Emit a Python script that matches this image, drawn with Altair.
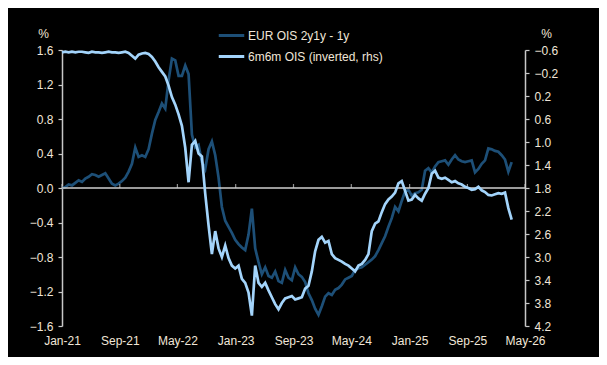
import altair as alt
import pandas as pd

# fortnightly observations from Jan-21
dates = pd.date_range("2021-01-01", periods=136, freq="14D")

eur_ois_2y1y_1y = [
    0.00, 0.01, 0.04, 0.03, 0.06, 0.09, 0.07, 0.11, 0.13, 0.16,
    0.15, 0.13, 0.15, 0.17, 0.11, 0.05, 0.03, 0.05, 0.08, 0.12,
    0.19, 0.28, 0.47, 0.36, 0.38, 0.36, 0.45, 0.63, 0.79, 0.88,
    0.98, 0.92, 1.25, 1.50, 1.48, 1.30, 1.30, 1.42, 1.32, 0.62,
    0.47, 0.50, 0.30, 0.22, 0.45, 0.54, 0.38, 0.12, -0.22, -0.38,
    -0.45, -0.52, -0.60, -0.65, -0.69, -0.72, -0.54, -0.24, -0.70, -0.86,
    -1.00, -0.92, -1.02, -1.04, -0.97, -1.08, -1.10, -0.95, -1.04, -1.07,
    -0.92, -1.00, -1.03, -1.09, -1.22, -1.30, -1.40, -1.47, -1.37, -1.26,
    -1.22, -1.24, -1.18, -1.16, -1.12, -1.06, -1.04, -1.02, -0.95, -0.93,
    -0.92, -0.89, -0.86, -0.83, -0.79, -0.72, -0.64, -0.56, -0.45, -0.35,
    -0.22, -0.27, -0.15, -0.04, -0.02, -0.09, -0.06, -0.05, -0.02, 0.20,
    0.23, 0.18, 0.25, 0.30, 0.31, 0.32, 0.27, 0.33, 0.38, 0.33,
    0.31, 0.30, 0.31, 0.32, 0.18, 0.22, 0.28, 0.32, 0.46, 0.45,
    0.43, 0.42, 0.38, 0.33, 0.19, 0.30,
]

ois_6m6m = [
    -0.56, -0.57, -0.56, -0.57, -0.56, -0.57, -0.57, -0.56, -0.55, -0.57,
    -0.56, -0.56, -0.55, -0.56, -0.57, -0.56, -0.56, -0.55, -0.56, -0.57,
    -0.55, -0.50, -0.45, -0.52, -0.54, -0.55, -0.53, -0.48, -0.40, -0.30,
    -0.22, -0.14, 0.02, 0.22, 0.35, 0.52, 0.72, 1.10, 1.70, 1.05,
    0.98, 1.20, 1.25, 1.90, 2.45, 2.95, 2.55, 2.85, 3.00, 2.80,
    3.02, 3.15, 3.20, 3.15, 3.38, 3.45, 3.62, 4.02, 3.15, 3.45,
    3.52, 3.45, 3.58, 3.70, 3.82, 3.91, 3.80, 3.72, 3.70, 3.68,
    3.74, 3.72, 3.70, 3.55, 3.50, 3.25, 2.90, 2.70, 2.65, 2.75,
    2.72, 2.95, 3.02, 3.05, 3.08, 3.12, 3.15, 3.20, 3.25, 3.15,
    3.12, 3.05, 2.95, 2.55, 2.42, 2.38, 2.22, 2.08, 2.00, 1.95,
    1.88, 1.72, 1.68, 1.85, 2.02, 2.00, 1.92, 1.98, 2.02, 1.90,
    1.80, 1.55, 1.50, 1.62, 1.64, 1.62, 1.66, 1.70, 1.68, 1.72,
    1.74, 1.78, 1.80, 1.83, 1.82, 1.78, 1.84, 1.87, 1.92, 1.93,
    1.91, 1.89, 1.90, 1.88, 2.15, 2.35,
]

series_names = ["EUR OIS 2y1y - 1y", "6m6m OIS (inverted, rhs)"]
series_colors = ["#1d4f77", "#a3d4fb"]

left_ticks = [-1.6, -1.2, -0.8, -0.4, 0.0, 0.4, 0.8, 1.2, 1.6]
right_ticks = [-0.6, -0.2, 0.2, 0.6, 1.0, 1.4, 1.8, 2.2, 2.6, 3.0, 3.4, 3.8, 4.2]
x_tick_dates = ["2021-01-01", "2021-09-01", "2022-05-01", "2023-01-01", "2023-09-01",
                "2024-05-01", "2025-01-01", "2025-09-01", "2026-05-01"]

TEXT = "#f0e6d8"
FONT = "Liberation Sans"

df = pd.concat([
    pd.DataFrame({"date": dates, "value": eur_ois_2y1y_1y, "series": series_names[0]}),
    pd.DataFrame({"date": dates, "value": ois_6m6m, "series": series_names[1]}),
])
ticks_df = pd.DataFrame({"date": pd.to_datetime(x_tick_dates), "zero": 0.0})

def dt(s):
    t = pd.Timestamp(s)
    return alt.DateTime(year=t.year, month=t.month, date=t.day)

x_scale = alt.Scale(domain=[dt(x_tick_dates[0]), dt(x_tick_dates[-1])])
x_axis = alt.Axis(values=[dt(s) for s in x_tick_dates], format="%b-%y",
                  domain=False, ticks=False, grid=False, title=None,
                  labelPadding=9, labelFlush=False, labelOverlap=False)
x_enc = alt.X("date:T", scale=x_scale, axis=x_axis)
left_scale = alt.Scale(domain=[-1.6, 1.6], nice=False, zero=False)

color = alt.Color("series:N", sort=series_names,
                  scale=alt.Scale(domain=series_names, range=series_colors),
                  legend=alt.Legend(title=None, orient="none", legendX=155, legendY=-29,
                                    symbolType="stroke", symbolSize=650, symbolStrokeWidth=3,
                                    labelFontSize=12, labelColor=TEXT, labelFont=FONT,
                                    rowPadding=0, labelOffset=2, padding=0))

dark = alt.Chart(df).transform_filter(alt.datum.series == series_names[0]).mark_line(
    strokeWidth=2.7).encode(
    x=x_enc,
    y=alt.Y("value:Q", scale=left_scale,
            axis=alt.Axis(values=left_ticks, format=".1f", title="%", titleAngle=0,
                          titleX=-19, titleY=-17, titleAlign="center", titleBaseline="middle",
                          titleFontWeight="normal", titleFontSize=12, titleColor=TEXT,
                          tickSize=4, labelPadding=5, grid=False)),
    color=color,
)

zero_rule = alt.Chart(ticks_df).mark_rule(color="#cfcfcf", strokeWidth=1.5).encode(
    y=alt.Y("mean(zero):Q", scale=left_scale, axis=None),
)

x_ticks = alt.Chart(ticks_df).mark_tick(orient="vertical", size=4, thickness=1.2,
                                        yOffset=-2, color="#cfcfcf").encode(
    x=x_enc,
    y=alt.Y("zero:Q", scale=left_scale, axis=None),
)

light = alt.Chart(df).transform_filter(alt.datum.series == series_names[1]).mark_line(
    strokeWidth=2.7).encode(
    x=x_enc,
    y=alt.Y("value:Q",
            scale=alt.Scale(domain=[-0.6, 4.2], reverse=True, nice=False, zero=False),
            axis=alt.Axis(orient="right", values=right_ticks, format=".1f", title="%",
                          titleAngle=0, titleX=21, titleY=-17, titleAlign="center",
                          titleBaseline="middle", titleFontWeight="normal", titleFontSize=12,
                          titleColor=TEXT, tickSize=4, labelPadding=5, grid=False)),
    color=color,
)

chart = alt.layer(dark, zero_rule, x_ticks, light).resolve_scale(y="independent").properties(
    width=463, height=276,
    padding={"left": 54, "top": 42, "right": 74, "bottom": 31},
    autosize=alt.AutoSizeParams(type="none"),
    background="black",
).configure_view(stroke=None).configure_axis(
    labelColor=TEXT, labelFont=FONT, labelFontSize=12, titleFont=FONT,
    domainColor="#c8c8c8", domainWidth=1.5, tickColor="#c8c8c8", tickWidth=1.2,
)

chart.save("out.html", embed_options={"renderer": "svg", "actions": False})
